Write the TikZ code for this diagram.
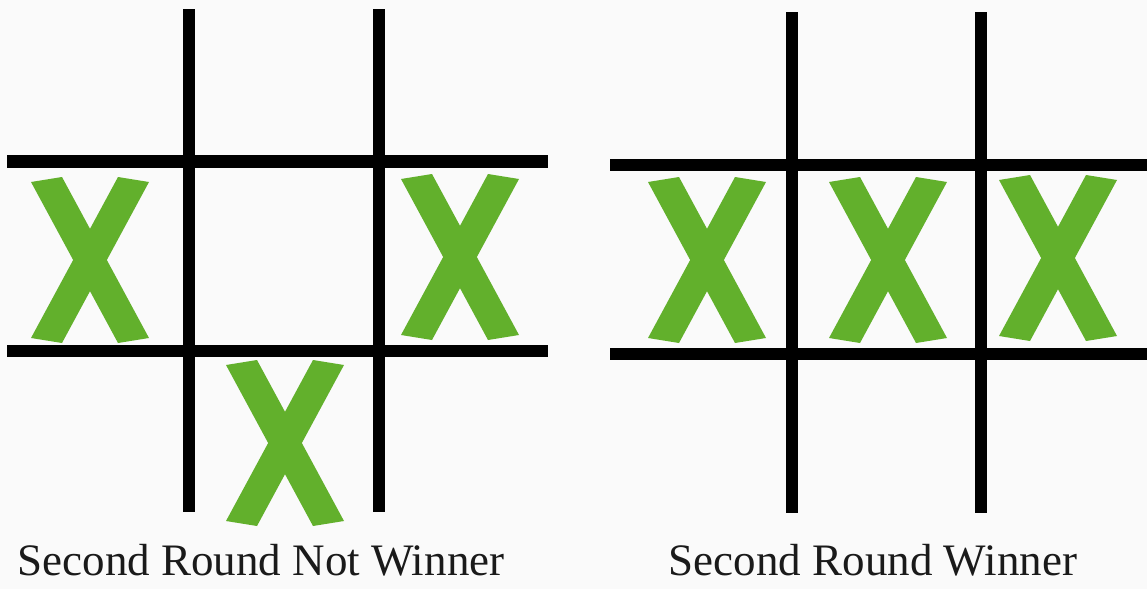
\documentclass[tikz,border=0pt]{standalone}
\usepackage{fontspec}
\setmainfont{Liberation Serif}
\usepackage{tikz}
\definecolor{tttGreen}{HTML}{62B02C}
\definecolor{tttPaper}{HTML}{FAFAFA}
\definecolor{tttInk}{HTML}{1A1A1A}

\begin{document}
\begin{tikzpicture}[x=1pt,y=-1pt,
  gridline/.style={line width=12.5pt,black},
  caption/.style={anchor=base,text=tttInk,font=\fontsize{45}{54}\selectfont}]
\fill[tttPaper] (0,0) rectangle (1147,589);
\useasboundingbox (0,0) rectangle (1147,589);
% left board
\draw[gridline] (189,9) -- (189,512);
\draw[gridline] (379,9) -- (379,512);
\draw[gridline] (7,161.5) -- (548,161.5);
\draw[gridline] (7,351) -- (548,351);
% right board
\draw[gridline] (792,12) -- (792,513);
\draw[gridline] (981,12) -- (981,513);
\draw[gridline] (610,165) -- (1147,165);
\draw[gridline] (610,354) -- (1147,354);
% the crosses
\foreach \cx/\cy in {90/260,460/257,285/443,707/260,888/260,1058/258}{
  \fill[tttGreen,shift={(\cx,\cy)}] (-59,-78) -- (-28,-83) -- (59,78) -- (28,83) -- cycle;
  \fill[tttGreen,shift={(\cx,\cy)}] (28,-83) -- (59,-78) -- (-28,83) -- (-59,78) -- cycle;
}
\node[caption] (leftlabel) at (261,575) {Second Round Not Winner};
\node[caption] (rightlabel) at (873,575) {Second Round Winner};
\end{tikzpicture}
\end{document}
